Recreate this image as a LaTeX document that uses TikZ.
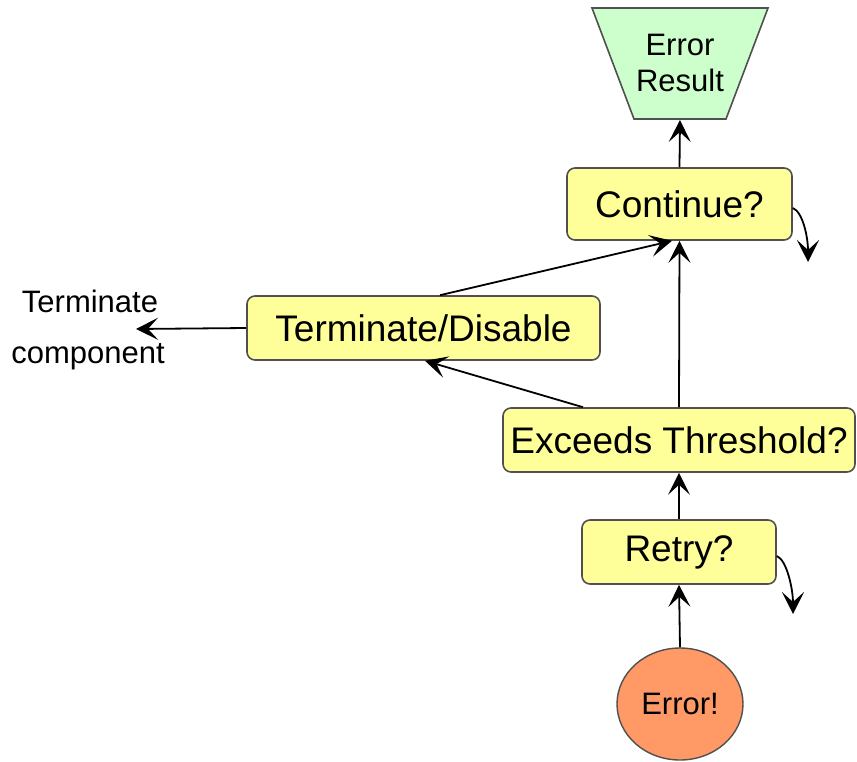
\documentclass[tikz,border=0pt]{standalone}
\usepackage{fontspec}
\setmainfont{Liberation Sans}
\usetikzlibrary{arrows.meta,shapes.geometric}
\definecolor{boxyellow}{HTML}{FFFF99}
\definecolor{boxgreen}{HTML}{CCFFCC}
\definecolor{boxorange}{HTML}{FF9966}
\definecolor{boxedge}{HTML}{505050}
\tikzset{
  stepbox/.style={draw=boxedge, line width=1.6pt, fill=boxyellow, rounded corners=8pt, inner sep=0pt, font=\fontsize{37}{40}\selectfont},
  conn/.style={line width=1.8pt, -{Stealth[length=22pt,width=22pt,inset=10pt]}},
  lbl/.style={font=\fontsize{31}{34}\selectfont, inner sep=0pt}
}
\begin{document}
\begin{tikzpicture}[x=1pt,y=-1pt]
\useasboundingbox (0,0) rectangle (857,761);
% Error Result trapezoid
\draw[draw=boxedge, line width=1.6pt, fill=boxgreen] (592,8) -- (768,8) -- (726,119) -- (634,119) -- cycle;
\node[lbl, align=center] (res) at (680,63) {Error\\[2pt]Result};
\coordinate (resb) at (680,120);
% Boxes
\node[stepbox, minimum width=225pt, minimum height=72pt] (cont) at (679.5,204) {Continue?};
\node[stepbox, minimum width=353pt, minimum height=64pt] (term) at (423.5,328) {Terminate/Disable};
\node[stepbox, minimum width=352pt, minimum height=64pt] (exc) at (679,440) {Exceeds Threshold?};
\node[stepbox, minimum width=194pt, minimum height=64pt] (retry) at (679,552) {Retry?};
\node[draw=boxedge, line width=1.4pt, fill=boxorange, ellipse, minimum width=126pt, minimum height=112pt, inner sep=0pt, lbl] (err) at (680,704) {Error!};
% Text
\node[lbl] (tc1) at (90,301) {Terminate};
\node[lbl] (tc2) at (88,357) {component};
\coordinate (tcend) at (136,329);
\coordinate (contloop) at (808,262);
\coordinate (retryloop) at (793,614);
% Connectors
\draw[conn] (err.north) -- (retry.south);
\draw[conn] (retry.north) -- (exc.south);
\draw[conn] (exc.north) -- (cont.south);
\draw[conn] (cont.north) -- (resb);
\draw[conn] (exc.north -| 583,0) -- (term.south -| 425,0);
\draw[conn] (term.north -| 440,0) -- (cont.south -| 672,0);
\draw[conn] (term.west) -- (tcend);
\draw[conn] (cont.east) ++(0,4) .. controls +(10,4) and +(0,-25) .. (contloop);
\draw[conn] (retry.east) ++(0,4) .. controls +(10,4) and +(0,-25) .. (retryloop);
\end{tikzpicture}
\end{document}
